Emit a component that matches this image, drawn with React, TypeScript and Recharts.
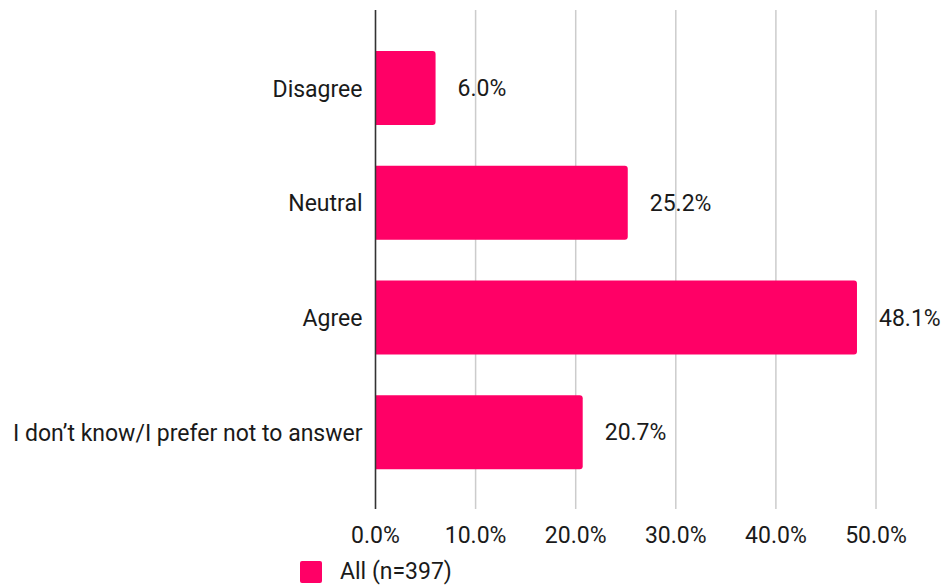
import React from "react";
import { BarChart, Bar, XAxis, YAxis, CartesianGrid, LabelList } from "recharts";

const categories = ["Disagree", "Neutral", "Agree", "I don\u2019t know/I prefer not to answer"];
const allValues = [6.0, 25.2, 48.1, 20.7];
const xTicks = [0, 10, 20, 30, 40, 50];
const seriesName = "All (n=397)";

const data = categories.map((c, i) => ({ category: c, all: allValues[i] }));

const FONT = "Roboto, 'Noto Sans', sans-serif";
const FS = 23;
const COLOR = "#FF0066";

export default function App() {
  return (
    <div style={{ position: "absolute", left: 0, top: 0, width: 945, height: 588, background: "#fff" }}>
      <BarChart
        width={945}
        height={588}
        data={data}
        layout="vertical"
        margin={{ top: 10, right: 69, bottom: 39, left: 0 }}
      >
        <CartesianGrid horizontal={false} vertical={true} stroke="#cccccc" strokeWidth={1.5} />
        <XAxis
          type="number"
          domain={[0, 50]}
          ticks={xTicks}
          tickFormatter={(v: number) => `${v.toFixed(1)}%`}
          axisLine={false}
          tickLine={false}
          tick={{ fontFamily: FONT, fontSize: FS, fill: "#1a1a1a" }}
          tickMargin={12}
          height={40}
        />
        <YAxis
          type="category"
          dataKey="category"
          width={375.5}
          axisLine={{ stroke: "#333", strokeWidth: 1.5 }}
          tickLine={false}
          tick={{ fontFamily: FONT, fontSize: FS, fill: "#1a1a1a" }}
          tickMargin={7}
          padding={{ top: 21, bottom: 19 }}
        />
        <Bar
          dataKey="all"
          name={seriesName}
          fill={COLOR}
          barSize={74}
          radius={[0, 3, 3, 0]}
          isAnimationActive={false}
        >
          <LabelList
            dataKey="all"
            position="right"
            offset={22}
            formatter={(v: number) => `${v.toFixed(1)}%`}
            style={{ fontFamily: FONT, fontSize: FS, fill: "#1a1a1a" }}
          />
        </Bar>
      </BarChart>
      <div
        style={{
          position: "absolute",
          left: 300,
          top: 561,
          display: "flex",
          alignItems: "center",
          fontFamily: FONT,
          fontSize: FS,
          color: "#1a1a1a",
          lineHeight: "22px",
        }}
      >
        <div style={{ width: 22, height: 22, background: COLOR, borderRadius: 2, marginRight: 18 }} />
        <span>{seriesName}</span>
      </div>
    </div>
  );
}
